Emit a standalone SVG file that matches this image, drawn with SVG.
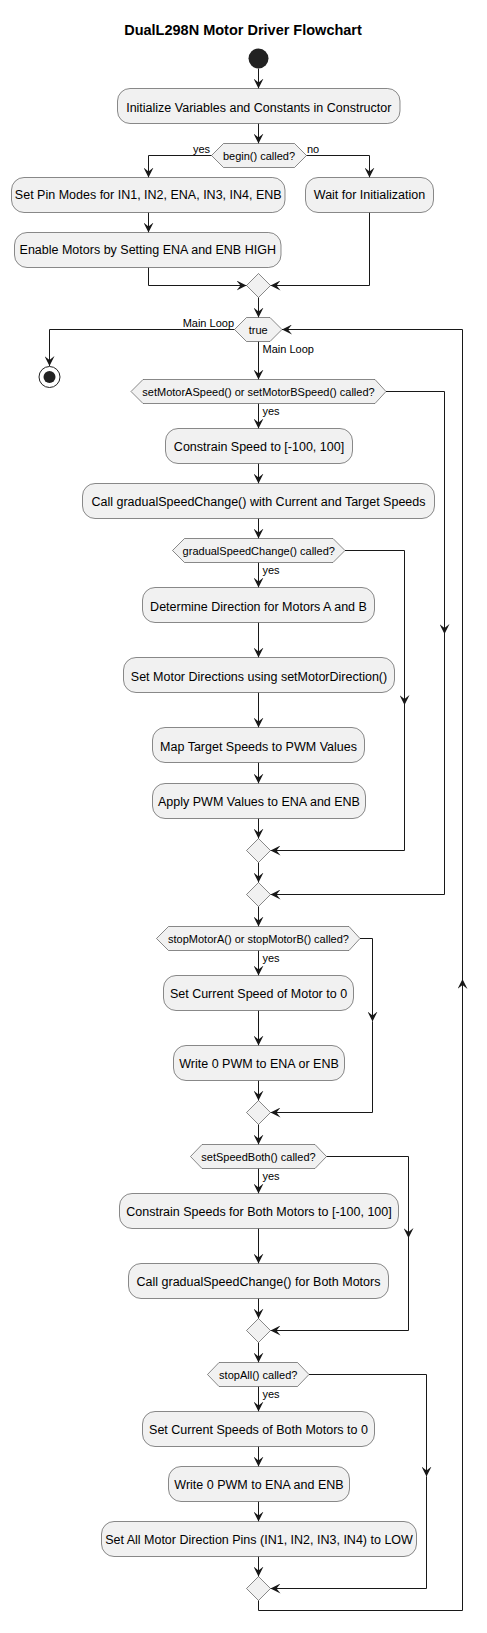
<svg xmlns="http://www.w3.org/2000/svg" width="487" height="1633" viewBox="0 0 487 1633">
<style>
.act{fill:#F1F1F1;stroke:#181818;stroke-width:0.5}
.dec{fill:#F1F1F1;stroke:#181818;stroke-width:0.5}
.t{font-family:"Liberation Sans",Arial,sans-serif;font-size:12.5px;fill:#000;text-anchor:middle}
.dt{font-family:"Liberation Sans",Arial,sans-serif;font-size:11px;fill:#000;text-anchor:middle}
.lbl{font-family:"Liberation Sans",Arial,sans-serif;font-size:11px;fill:#000}
.c{fill:none;stroke:#181818;stroke-width:1;marker-end:url(#ah)}
.cn{fill:none;stroke:#181818;stroke-width:1}
</style>
<defs>
<marker id="ah" markerUnits="userSpaceOnUse" viewBox="0 0 10 10" markerWidth="10" markerHeight="10" refX="10" refY="5" orient="auto">
<path d="M0,0 L10,5 L0,10 L4,5 Z" fill="#181818"/>
</marker>
</defs>
<rect width="487" height="1633" fill="#FFFFFF"/>
<text x="243" y="35" style="font-family:'Liberation Sans',Arial,sans-serif;font-size:14.5px;font-weight:bold;text-anchor:middle">DualL298N Motor Driver Flowchart</text>

<g id="connectors">
<path class="c" d="M258.5,68.5 V88.5"/>
<path class="c" d="M258.5,123.5 V143.5"/>
<path class="c" d="M211.5,155.5 H148.5 V177.5"/>
<path class="c" d="M306.5,155.5 H369.5 V177.5"/>
<path class="c" d="M148.5,212.5 V232.5"/>
<path class="c" d="M148.5,267.5 V285.5 H246.5"/>
<path class="c" d="M369.5,212.5 V285.5 H270.5"/>
<path class="c" d="M258.5,297.5 V317.5"/>
<path class="c" d="M234.5,329.5 H49.5 V366"/>
<path class="c" d="M258.5,341.5 V379.5"/>
<path class="c" d="M386,391.5 H444.5 V634"/>
<path class="c" d="M444.5,634 V894.5 H270.5"/>
<path class="c" d="M258.5,403.5 V428.5"/>
<path class="c" d="M258.5,463.5 V483.5"/>
<path class="c" d="M258.5,518.5 V538.5"/>
<path class="c" d="M345,550.5 H404.5 V705"/>
<path class="c" d="M404.5,705 V850.5 H270.5"/>
<path class="c" d="M258.5,562.5 V587.5"/>
<path class="c" d="M258.5,622.5 V657.5"/>
<path class="c" d="M258.5,692.5 V727.5"/>
<path class="c" d="M258.5,762.5 V783.5"/>
<path class="c" d="M258.5,818.5 V838.5"/>
<path class="c" d="M258.5,862.5 V882.5"/>
<path class="c" d="M258.5,906.5 V926.5"/>
<path class="c" d="M360,938.5 H372.5 V1021.5"/>
<path class="c" d="M372.5,1021.5 V1112.5 H270.5"/>
<path class="c" d="M258.5,950.5 V975.5"/>
<path class="c" d="M258.5,1010.5 V1045.5"/>
<path class="c" d="M258.5,1080.5 V1100.5"/>
<path class="c" d="M258.5,1124.5 V1144.5"/>
<path class="c" d="M326.5,1156.5 H408.5 V1238"/>
<path class="c" d="M408.5,1238 V1330.5 H270.5"/>
<path class="c" d="M258.5,1168.5 V1193.5"/>
<path class="c" d="M258.5,1228.5 V1263.5"/>
<path class="c" d="M258.5,1298.5 V1318.5"/>
<path class="c" d="M258.5,1342.5 V1362.5"/>
<path class="c" d="M309,1374.5 H426.5 V1476.5"/>
<path class="c" d="M426.5,1476.5 V1588.5 H270.5"/>
<path class="c" d="M258.5,1386.5 V1411.5"/>
<path class="c" d="M258.5,1446.5 V1466.5"/>
<path class="c" d="M258.5,1501.5 V1521.5"/>
<path class="c" d="M258.5,1556.5 V1576.5"/>
<path class="c" d="M258.5,1600.5 V1610.5 H462.5 V979"/>
<path class="c" d="M462.5,979 V329.5 H282"/>
<text class="lbl" x="210" y="152.5" text-anchor="end">yes</text>
<text class="lbl" x="307" y="152.5">no</text>
<text class="lbl" x="234" y="326.5" text-anchor="end">Main Loop</text>
<text class="lbl" x="262.5" y="352.5">Main Loop</text>
<text class="lbl" x="262.5" y="415">yes</text>
<text class="lbl" x="262.5" y="574">yes</text>
<text class="lbl" x="262.5" y="961.5">yes</text>
<text class="lbl" x="262.5" y="1179.5">yes</text>
<text class="lbl" x="262.5" y="1397.5">yes</text>
</g>

<g id="start"><circle cx="258.5" cy="58.5" r="10" fill="#222222"/></g>
<g id="end"><circle cx="49.5" cy="377" r="10.5" fill="none" stroke="#222222" stroke-width="1"/><circle cx="49.5" cy="377" r="6" fill="#222222"/></g>

<g id="init"><rect class="act" x="117.5" y="88.5" width="282.5" height="35" rx="12.5"/><text class="t" x="258.75" y="112">Initialize Variables and Constants in Constructor</text></g>
<g id="begin"><polygon class="dec" points="211.5,155.5 223.5,143.5 294.5,143.5 306.5,155.5 294.5,167.5 223.5,167.5"/><text class="dt" x="259" y="159.5">begin() called?</text></g>
<g id="pinmodes"><rect class="act" x="11.5" y="177.5" width="273.5" height="35" rx="12.5"/><text class="t" x="148.25" y="199">Set Pin Modes for IN1, IN2, ENA, IN3, IN4, ENB</text></g>
<g id="wait"><rect class="act" x="305.5" y="177.5" width="128" height="35" rx="12.5"/><text class="t" x="369.5" y="199">Wait for Initialization</text></g>
<g id="enable"><rect class="act" x="14.5" y="232.5" width="266.5" height="35" rx="12.5"/><text class="t" x="147.75" y="254">Enable Motors by Setting ENA and ENB HIGH</text></g>
<g id="merge1"><polygon class="dec" points="246.5,285.5 258.5,273.5 270.5,285.5 258.5,297.5"/></g>
<g id="loop"><polygon class="dec" points="234.5,329.5 246.5,317.5 270,317.5 282,329.5 270,341.5 246.5,341.5"/><text class="dt" x="258.25" y="333.5">true</text></g>
<g id="setspeed"><polygon class="dec" points="131,391.5 143,379.5 375,379.5 386,391.5 375,403.5 143,403.5"/><text class="dt" x="258.5" y="395.5">setMotorASpeed() or setMotorBSpeed() called?</text></g>
<g id="constrain"><rect class="act" x="165.5" y="428.5" width="187" height="35" rx="12.5"/><text class="t" x="259" y="451">Constrain Speed to [-100, 100]</text></g>
<g id="callgradual"><rect class="act" x="82.5" y="483.5" width="352" height="35" rx="12.5"/><text class="t" x="258.5" y="506">Call gradualSpeedChange() with Current and Target Speeds</text></g>
<g id="gradual"><polygon class="dec" points="172.5,550.5 184.5,538.5 333,538.5 345,550.5 333,562.5 184.5,562.5"/><text class="dt" x="258.75" y="554.5">gradualSpeedChange() called?</text></g>
<g id="determine"><rect class="act" x="142.5" y="587.5" width="232" height="35" rx="12.5"/><text class="t" x="258.5" y="610.5">Determine Direction for Motors A and B</text></g>
<g id="setdir"><rect class="act" x="123.5" y="657.5" width="271" height="35" rx="12.5"/><text class="t" x="259" y="680.5">Set Motor Directions using setMotorDirection()</text></g>
<g id="map"><rect class="act" x="152.5" y="727.5" width="212" height="35" rx="12.5"/><text class="t" x="258.5" y="750.5">Map Target Speeds to PWM Values</text></g>
<g id="apply"><rect class="act" x="152.5" y="783.5" width="213" height="35" rx="12.5"/><text class="t" x="259" y="805.5">Apply PWM Values to ENA and ENB</text></g>
<g id="merge3"><polygon class="dec" points="246.5,850.5 258.5,838.5 270.5,850.5 258.5,862.5"/></g>
<g id="merge2"><polygon class="dec" points="246.5,894.5 258.5,882.5 270.5,894.5 258.5,906.5"/></g>
<g id="stopmotor"><polygon class="dec" points="156.5,938.5 168.5,926.5 349,926.5 360,938.5 349,950.5 168.5,950.5"/><text class="dt" x="258.5" y="942.5">stopMotorA() or stopMotorB() called?</text></g>
<g id="setcurrent"><rect class="act" x="163.5" y="975.5" width="190" height="35" rx="12.5"/><text class="t" x="258.5" y="997.5">Set Current Speed of Motor to 0</text></g>
<g id="write0"><rect class="act" x="173.5" y="1045.5" width="171" height="35" rx="12.5"/><text class="t" x="259" y="1067.5">Write 0 PWM to ENA or ENB</text></g>
<g id="merge4"><polygon class="dec" points="246.5,1112.5 258.5,1100.5 270.5,1112.5 258.5,1124.5"/></g>
<g id="speedboth"><polygon class="dec" points="190.5,1156.5 202,1144.5 315,1144.5 326.5,1156.5 315,1168.5 202,1168.5"/><text class="dt" x="258.5" y="1160.5">setSpeedBoth() called?</text></g>
<g id="constrainboth"><rect class="act" x="119.5" y="1193.5" width="279" height="35" rx="12.5"/><text class="t" x="259" y="1215.5">Constrain Speeds for Both Motors to [-100, 100]</text></g>
<g id="callboth"><rect class="act" x="128.5" y="1263.5" width="260" height="35" rx="12.5"/><text class="t" x="258.5" y="1285.5">Call gradualSpeedChange() for Both Motors</text></g>
<g id="merge5"><polygon class="dec" points="246.5,1330.5 258.5,1318.5 270.5,1330.5 258.5,1342.5"/></g>
<g id="stopall"><polygon class="dec" points="207.5,1374.5 219,1362.5 297.5,1362.5 309,1374.5 297.5,1386.5 219,1386.5"/><text class="dt" x="258.25" y="1378.5">stopAll() called?</text></g>
<g id="setcurrentboth"><rect class="act" x="142.5" y="1411.5" width="232" height="35" rx="12.5"/><text class="t" x="258.5" y="1433.5">Set Current Speeds of Both Motors to 0</text></g>
<g id="write0both"><rect class="act" x="168.5" y="1466.5" width="181" height="35" rx="12.5"/><text class="t" x="259" y="1488.5">Write 0 PWM to ENA and ENB</text></g>
<g id="setlow"><rect class="act" x="101.5" y="1521.5" width="315" height="35" rx="12.5"/><text class="t" x="259" y="1543.5">Set All Motor Direction Pins (IN1, IN2, IN3, IN4) to LOW</text></g>
<g id="merge6"><polygon class="dec" points="246.5,1588.5 258.5,1576.5 270.5,1588.5 258.5,1600.5"/></g>
</svg>
